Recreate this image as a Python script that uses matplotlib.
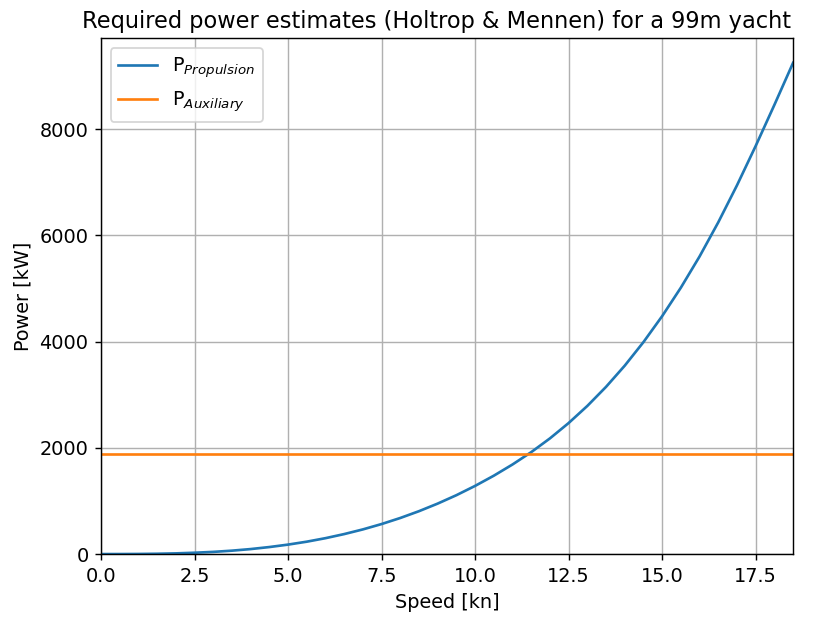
import numpy as np
import matplotlib
matplotlib.use("Agg")
import matplotlib.pyplot as plt

# speed [kn] and estimated propulsion power [kW]
speed = [0.0, 0.5, 1.0, 1.5, 2.0, 2.5, 3.0, 3.5, 4.0, 4.5, 5.0, 5.5, 6.0, 6.5,
         7.0, 7.5, 8.0, 8.5, 9.0, 9.5, 10.0, 10.5, 11.0, 11.5, 12.0, 12.5,
         13.0, 13.5, 14.0, 14.5, 15.0, 15.5, 16.0, 16.5, 17.0, 17.5, 18.0, 18.5]
p_propulsion = [0, 0.25, 1.8, 5.8, 13, 25, 41, 64, 94, 132, 178, 233, 299, 376,
                464, 565, 679, 807, 950, 1108, 1283, 1475, 1686, 1918, 2177, 2466,
                2788, 3147, 3546, 3989, 4478, 5014, 5601, 6244, 6940, 7681, 8454, 9246]
# auxiliary (hotel) load, constant over speed [kW]
p_auxiliary = 1875

plt.rcParams["font.size"] = 10.8

fig = plt.figure(figsize=(821 / 128, 617 / 128), dpi=128)
ax = fig.add_subplot(111)
fig.subplots_adjust(left=0.123, right=0.966, top=0.938, bottom=0.102)

ax.plot(speed, p_propulsion, label=r"P$_{Propulsion}$")
ax.plot(speed, [p_auxiliary] * len(speed), label=r"P$_{Auxiliary}$")

ax.set_xlim(0, 18.5)
ax.set_ylim(bottom=0)
ax.set_xlabel("Speed [kn]")
ax.set_ylabel("Power [kW]")
ax.set_title("Required power estimates (Holtrop & Mennen) for a 99m yacht",
             fontsize=12.7, x=0.485)
ax.grid(True)
ax.legend(loc="upper left")

fig.savefig("out.png", dpi=128)
